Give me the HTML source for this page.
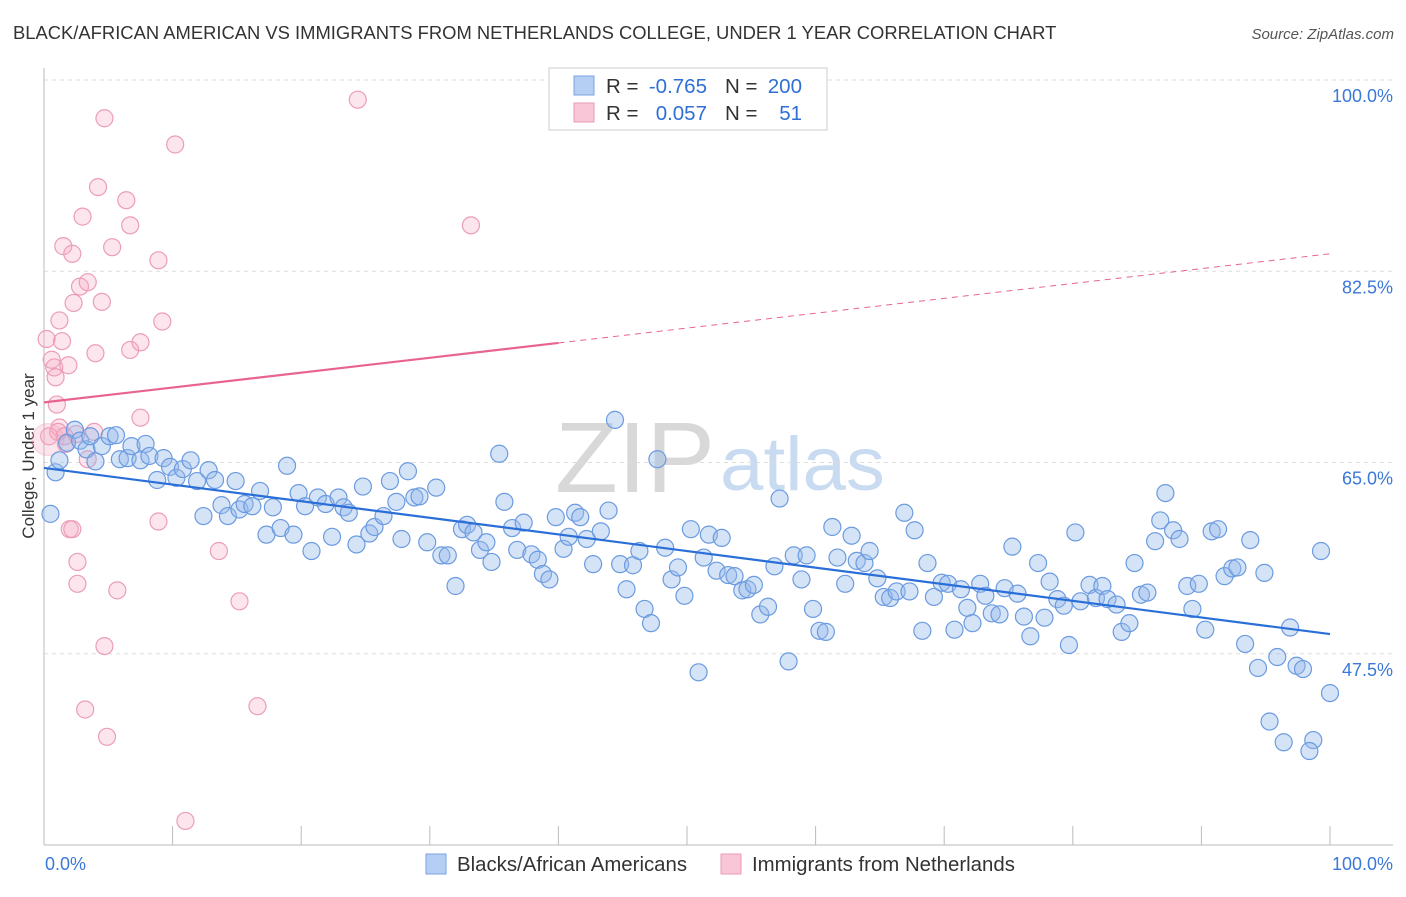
<!DOCTYPE html>
<html><head><meta charset="utf-8"><style>
body{margin:0;background:#fff;font-family:"Liberation Sans",sans-serif;}
svg text{font-family:"Liberation Sans",sans-serif;}
</style></head><body>
<svg id="chart" width="1406" height="892" viewBox="0 0 1406 892" xmlns="http://www.w3.org/2000/svg">
<text x="13" y="39" font-size="18.4" fill="#333">BLACK/AFRICAN AMERICAN VS IMMIGRANTS FROM NETHERLANDS COLLEGE, UNDER 1 YEAR CORRELATION CHART</text>
<text x="1394" y="39" font-size="15" fill="#555" font-style="italic" text-anchor="end">Source: ZipAtlas.com</text>
<text transform="translate(34,456) rotate(-90)" font-size="17" fill="#333" text-anchor="middle">College, Under 1 year</text>
<g>
<text x="555" y="492" font-size="100" fill="#d8d8d8" font-family="Liberation Serif" textLength="160" lengthAdjust="spacingAndGlyphs">ZIP</text>
<text x="720" y="490" font-size="76" fill="#c9dbf0" textLength="165" lengthAdjust="spacingAndGlyphs">atlas</text>
</g>
<g id="grid"></g>
<g id="axes"></g>
<g id="pts"></g>
<g id="lines"></g>
<g>
<rect x="549" y="68" width="278" height="62" fill="#fff" stroke="#ccc"/>
<rect x="574" y="76" width="20" height="19" fill="#b5cff4" stroke="#7aa3e0"/>
<rect x="574" y="103" width="20" height="19" fill="#f8c6d6" stroke="#eb9ab5"/>
<text x="606" y="93" font-size="20.5" fill="#333">R =</text>
<text x="707" y="93" font-size="20.5" fill="#2f6fd6" text-anchor="end">-0.765</text>
<text x="725" y="93" font-size="20.5" fill="#333">N =</text>
<text x="802" y="93" font-size="20.5" fill="#2f6fd6" text-anchor="end">200</text>
<text x="606" y="120" font-size="20.5" fill="#333">R =</text>
<text x="707" y="120" font-size="20.5" fill="#2f6fd6" text-anchor="end">0.057</text>
<text x="725" y="120" font-size="20.5" fill="#333">N =</text>
<text x="802" y="120" font-size="20.5" fill="#2f6fd6" text-anchor="end">51</text>
</g>
<g>
<rect x="426" y="854" width="20" height="20" fill="#b5cff4" stroke="#7aa3e0"/>
<text x="457" y="871" font-size="20.4" fill="#333">Blacks/African Americans</text>
<rect x="721" y="854" width="20" height="20" fill="#f8c6d6" stroke="#eb9ab5"/>
<text x="752" y="871" font-size="20.4" fill="#333">Immigrants from Netherlands</text>
</g>
</svg>
<script>
const yTicks=[47.5,65.0,82.5,100.0];
const yTickLabels=["47.5%","65.0%","82.5%","100.0%"];
const xTicks=[0,10,20,30,40,50,60,70,80,90,100];
const blueX=[0.5,0.9,1.2,1.8,2.4,2.8,3.3,3.6,4.0,4.5,5.1,5.6,5.9,6.5,6.8,7.5,7.9,8.2,8.8,9.3,9.8,10.3,10.8,11.4,11.9,12.4,12.8,13.3,13.8,14.3,14.9,15.2,15.6,16.2,16.8,17.3,17.8,18.4,18.9,19.4,19.8,20.3,20.8,21.3,21.9,22.4,22.9,23.3,23.7,24.3,24.8,25.3,25.7,26.4,26.9,27.4,27.8,28.3,28.8,29.2,29.8,30.5,30.9,31.4,32.0,32.5,32.9,33.4,33.9,34.4,34.8,35.4,35.8,36.4,36.8,37.3,37.9,38.4,38.8,39.3,39.8,40.4,40.8,41.3,41.7,42.2,42.7,43.3,43.9,44.4,44.8,45.3,45.8,46.3,46.7,47.2,47.7,48.3,48.8,49.3,49.8,50.3,50.9,51.3,51.7,52.3,52.7,53.2,53.7,54.3,54.7,55.2,55.7,56.3,56.8,57.2,57.9,58.3,58.9,59.3,59.8,60.3,60.8,61.3,61.7,62.3,62.8,63.2,63.8,64.2,64.8,65.3,65.8,66.3,66.9,67.3,67.7,68.3,68.7,69.2,69.8,70.3,70.8,71.3,71.8,72.2,72.8,73.2,73.7,74.3,74.7,75.3,75.7,76.2,76.7,77.3,77.8,78.2,78.8,79.3,79.7,80.2,80.6,81.3,81.8,82.3,82.7,83.4,83.8,84.4,84.8,85.3,85.8,86.4,86.8,87.2,87.8,88.3,88.9,89.3,89.8,90.3,90.8,91.3,91.8,92.4,92.8,93.4,93.8,94.4,94.9,95.3,95.9,96.4,96.9,97.4,97.9,98.7,98.4,99.3,100.0];
const blueY=[60.3,64.1,65.2,66.8,68.0,67.0,66.2,67.4,65.1,66.5,67.4,67.5,65.3,65.4,66.5,65.2,66.7,65.6,63.4,65.4,64.6,63.6,64.4,65.2,63.3,60.1,64.3,63.4,61.1,60.1,63.3,60.7,61.2,61.0,62.4,58.4,60.9,59.0,64.7,58.4,62.2,61.0,56.9,61.8,61.2,58.2,61.8,60.9,60.4,57.5,62.8,58.5,59.1,60.1,63.3,61.4,58.0,64.2,61.8,61.9,57.7,62.7,56.5,56.5,53.7,58.9,59.3,58.6,57.0,57.7,55.9,65.8,61.4,59.0,57.0,59.5,56.6,56.1,54.8,54.3,60.0,57.1,58.2,60.4,60.0,58.0,55.7,58.7,60.6,68.9,55.7,53.4,55.6,56.9,51.6,50.3,65.3,57.2,54.3,55.4,52.8,58.9,45.8,56.3,58.4,55.1,58.1,54.7,54.6,53.3,53.4,53.8,51.1,51.8,55.5,61.7,46.8,56.5,54.3,56.5,51.6,49.6,49.5,59.1,56.3,53.9,58.3,56.0,55.8,56.9,54.4,52.7,52.6,53.2,60.4,53.2,58.8,49.6,55.8,52.7,54.0,53.9,49.7,53.4,51.7,50.3,53.9,52.8,51.2,51.1,53.5,57.3,53.0,50.9,49.1,55.8,50.8,54.1,52.5,51.9,48.3,58.6,52.3,53.8,52.6,53.7,52.5,52.0,49.5,50.3,55.8,52.9,53.1,57.8,59.7,62.2,58.8,58.0,53.7,51.6,53.9,49.7,58.7,58.9,54.6,55.3,55.4,48.4,57.9,46.2,54.9,41.3,47.2,39.4,49.9,46.4,46.1,39.6,38.6,56.9,43.9];
const pinkX=[0.2,0.6,0.8,0.9,1.0,1.2,1.2,1.4,1.5,1.7,1.9,2.0,2.2,2.3,2.5,2.6,2.6,2.8,3.0,3.2,3.4,4.0,4.2,4.5,4.7,4.7,5.3,5.7,6.4,6.7,6.7,7.5,7.5,8.9,8.9,9.2,10.2,11.0,13.6,15.2,16.6,24.4,33.2,0.4,1.1,1.6,3.9,3.4,4.9,2.2,0.3];
const pinkY=[76.3,74.4,73.7,72.8,70.3,68.2,78.0,76.1,84.8,66.7,73.9,58.9,84.1,79.6,67.6,55.9,53.9,81.1,87.5,42.4,81.5,75.0,90.2,79.7,96.5,48.2,84.7,53.3,89.0,86.7,75.3,76.0,69.1,59.6,83.5,77.9,94.1,32.2,56.9,52.3,42.7,98.2,86.7,67.4,67.8,67.4,67.8,65.3,39.9,58.9,67.1];
const blueTrend=[64.5,49.3];
const pinkTrend=[70.5,84.1];
const pinkSolidEnd=40;

const X0=44,X1=1330,Y0=80,YMIN=30,YMAX=100,YB=845;
function sx(v){return X0+(v/100)*(X1-X0);}
function sy(v){return Y0+(YMAX-v)/(YMAX-YMIN)*(YB-Y0);}
const NS="http://www.w3.org/2000/svg";
function mk(tag,attrs,parent){const e=document.createElementNS(NS,tag);for(const k in attrs)e.setAttribute(k,attrs[k]);parent.appendChild(e);return e;}
const grid=document.getElementById('grid'),axes=document.getElementById('axes'),pts=document.getElementById('pts'),lines=document.getElementById('lines');
yTicks.forEach((t,i)=>{
  const l=mk('line',{x1:X0,x2:1393,y1:sy(t),y2:sy(t),stroke:'#ddd','stroke-dasharray':'4,4'},grid);
  
  
  const tx=mk('text',{x:1393,y:sy(t)+22,'font-size':18,fill:'#3b78d8','text-anchor':'end'},axes);
  tx.textContent=yTickLabels[i];
  
  
});
const ya=mk('line',{x1:X0,x2:X0,y1:68,y2:YB,stroke:'#bbb'},axes);


const xa=mk('line',{x1:X0,x2:1393,y1:YB,y2:YB,stroke:'#bbb'},axes);


xTicks.forEach(t=>{
  const l=mk('line',{x1:sx(t),x2:sx(t),y1:826,y2:YB,stroke:'#bbb'},axes);
  
  
});
const xl0=mk('text',{x:45,y:870,'font-size':18,fill:'#3b78d8'},axes);xl0.textContent='0.0%';


const xl1=mk('text',{x:1393,y:870,'font-size':18,fill:'#3b78d8','text-anchor':'end'},axes);xl1.textContent='100.0%';



pinkX.forEach((v,i)=>{
  const big=(i===pinkX.length-1);
  const c=mk('circle',{cx:sx(v),cy:sy(pinkY[i]),r:big?16:8.5,fill:'rgba(245,170,195,0.3)',stroke:big?'rgba(232,140,170,0.3)':'#ec9db7','stroke-width':1.2},pts);
  
  
});
blueX.forEach((v,i)=>{
  const c=mk('circle',{cx:sx(v),cy:sy(blueY[i]),r:8.5,fill:'rgba(150,185,235,0.4)',stroke:'#6b9be0','stroke-width':1.2},pts);
  
  
});
const bl=mk('line',{x1:sx(0),y1:sy(blueTrend[0]),x2:sx(100),y2:sy(blueTrend[1]),stroke:'#2a6fd8','stroke-width':2.2},lines);


const pm=pinkTrend[0]+(pinkTrend[1]-pinkTrend[0])*pinkSolidEnd/100;
const pl=mk('line',{x1:sx(0),y1:sy(pinkTrend[0]),x2:sx(pinkSolidEnd),y2:sy(pm),stroke:'#e8648e','stroke-width':2.2},lines);


const pd=mk('line',{x1:sx(pinkSolidEnd),y1:sy(pm),x2:sx(100),y2:sy(pinkTrend[1]),stroke:'#e8648e','stroke-width':1,'stroke-dasharray':'6,5'},lines);


</script>
</body></html>
